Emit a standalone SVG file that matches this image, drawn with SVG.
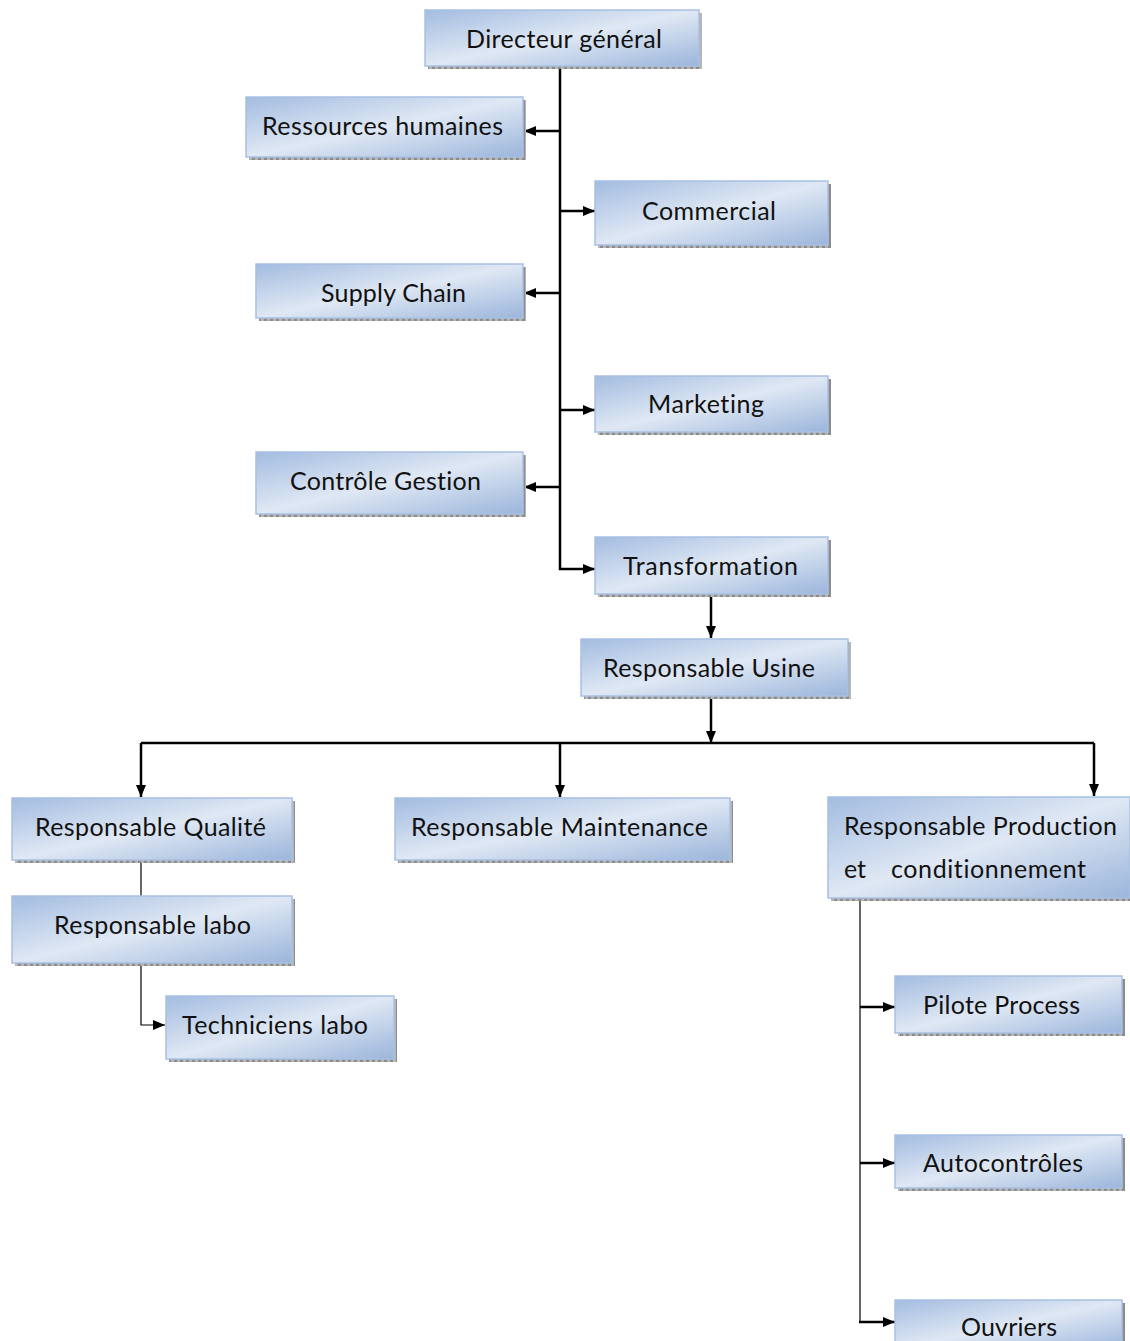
<svg xmlns="http://www.w3.org/2000/svg" width="1130" height="1341" viewBox="0 0 1130 1341">
<defs>
<linearGradient id="g" x1="0" y1="0" x2="1" y2="1">
<stop offset="0" stop-color="#a3bce0"/>
<stop offset="0.5" stop-color="#dfe8f4"/>
<stop offset="1" stop-color="#9bb5db"/>
</linearGradient>
<pattern id="sh" width="6" height="3" patternUnits="userSpaceOnUse">
<rect width="6" height="3" fill="#b5b5b5"/>
<rect width="3" height="3" fill="#8c8c8c"/>
</pattern>
<marker id="a" viewBox="0 0 12 10" refX="12" refY="5" markerWidth="12" markerHeight="10" markerUnits="userSpaceOnUse" orient="auto">
<path d="M0,0 L12,5 L0,10 z" fill="#000"/>
</marker>
</defs>
<style>
.s{fill:url(#sh)}
.b{fill:url(#g);stroke:#a8c0e2;stroke-width:1.5}
text{font-family:Lato,"Open Sans","Liberation Sans",sans-serif;font-size:25px;fill:#111;font-variant-ligatures:none}
.c{stroke:#000;stroke-width:2.5;fill:none}
.t{stroke:#000;stroke-width:1.2;fill:none}
</style>
<rect width="1130" height="1341" fill="#fff"/>
<g id="connectors">
<path class="c" d="M560,66 V569 H595" marker-end="url(#a)"/>
<path class="c" d="M560,131 H524" marker-end="url(#a)"/>
<path class="c" d="M560,211 H595" marker-end="url(#a)"/>
<path class="c" d="M560,293 H524" marker-end="url(#a)"/>
<path class="c" d="M560,410 H595" marker-end="url(#a)"/>
<path class="c" d="M560,487 H524" marker-end="url(#a)"/>
<path class="c" d="M711,594 V638" marker-end="url(#a)"/>
<path class="c" d="M711,696 V743" marker-end="url(#a)"/>
<path class="c" d="M141,743 H1094"/>
<path class="c" d="M141,743 V797" marker-end="url(#a)"/>
<path class="c" d="M560,743 V797" marker-end="url(#a)"/>
<path class="c" d="M1094,743 V796" marker-end="url(#a)"/>
<path class="t" d="M141,860 V896"/>
<path class="t" d="M141,963 V1025 H165" marker-end="url(#a)"/>
<path class="t" d="M860,898 V1322"/>
<path class="c" d="M860,1007 H895" marker-end="url(#a)"/>
<path class="c" d="M860,1163 H895" marker-end="url(#a)"/>
<path class="c" d="M859,1322 H895" marker-end="url(#a)"/>
</g>
<g id="n1"><rect class="s" x="428" y="13" width="274" height="56"/><rect class="b" x="425" y="10" width="274" height="56"/><text x="466" y="48" textLength="196">Directeur général</text></g>
<g id="n2"><rect class="s" x="249" y="100" width="277" height="60"/><rect class="b" x="246" y="97" width="277" height="60"/><text x="262" y="135" textLength="241">Ressources humaines</text></g>
<g id="n3"><rect class="s" x="598" y="184" width="233" height="64"/><rect class="b" x="595" y="181" width="233" height="64"/><text x="642" y="220" textLength="134">Commercial</text></g>
<g id="n4"><rect class="s" x="259" y="267" width="267" height="54"/><rect class="b" x="256" y="264" width="267" height="54"/><text x="321" y="302" textLength="145">Supply Chain</text></g>
<g id="n5"><rect class="s" x="598" y="379" width="233" height="56"/><rect class="b" x="595" y="376" width="233" height="56"/><text x="648" y="413" textLength="116">Marketing</text></g>
<g id="n6"><rect class="s" x="259" y="455" width="267" height="62"/><rect class="b" x="256" y="452" width="267" height="62"/><text x="290" y="490" textLength="191">Contrôle Gestion</text></g>
<g id="n7"><rect class="s" x="598" y="540" width="233" height="57"/><rect class="b" x="595" y="537" width="233" height="57"/><text x="623" y="575" textLength="175">Transformation</text></g>
<g id="n8"><rect class="s" x="584" y="642" width="267" height="57"/><rect class="b" x="581" y="639" width="267" height="57"/><text x="603" y="677" textLength="212">Responsable Usine</text></g>
<g id="n9"><rect class="s" x="15" y="801" width="280" height="62"/><rect class="b" x="12" y="798" width="280" height="62"/><text x="35" y="836" textLength="231">Responsable Qualité</text></g>
<g id="n10"><rect class="s" x="398" y="801" width="335" height="62"/><rect class="b" x="395" y="798" width="335" height="62"/><text x="411" y="836" textLength="297">Responsable Maintenance</text></g>
<g id="n11"><rect class="s" x="831" y="800" width="302" height="101"/><rect class="b" x="828" y="797" width="302" height="101"/><text x="844" y="835" textLength="273">Responsable Production</text><text x="844" y="878" textLength="22">et</text><text x="891" y="878" textLength="195">conditionnement</text></g>
<g id="n12"><rect class="s" x="15" y="899" width="280" height="67"/><rect class="b" x="12" y="896" width="280" height="67"/><text x="54" y="934" textLength="197">Responsable labo</text></g>
<g id="n13"><rect class="s" x="169" y="999" width="228" height="63"/><rect class="b" x="166" y="996" width="228" height="63"/><text x="182" y="1034" textLength="186">Techniciens labo</text></g>
<g id="n14"><rect class="s" x="898" y="979" width="227" height="57"/><rect class="b" x="895" y="976" width="227" height="57"/><text x="923" y="1014" textLength="157">Pilote Process</text></g>
<g id="n15"><rect class="s" x="898" y="1138" width="227" height="53"/><rect class="b" x="895" y="1135" width="227" height="53"/><text x="923" y="1172" textLength="160">Autocontrôles</text></g>
<g id="n16"><rect class="s" x="898" y="1303" width="227" height="50"/><rect class="b" x="895" y="1300" width="227" height="50"/><text x="961" y="1336" textLength="96">Ouvriers</text></g>
</svg>
